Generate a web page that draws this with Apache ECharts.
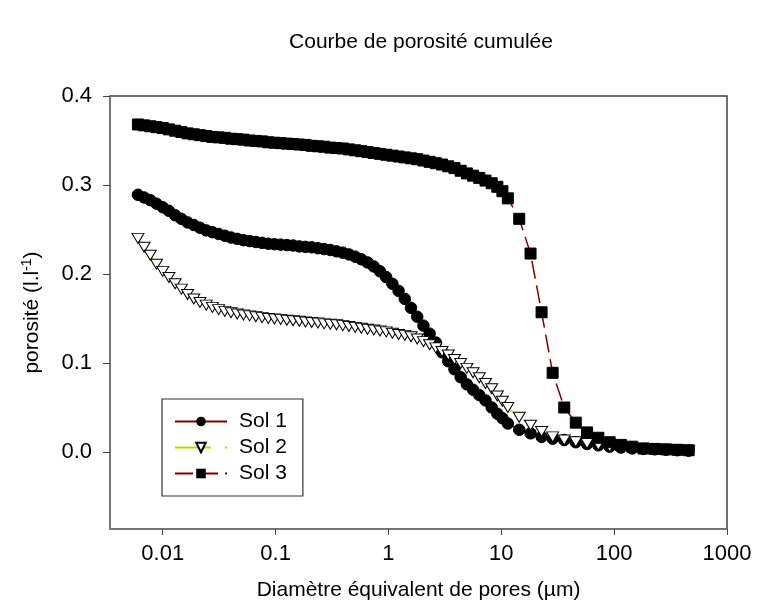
<!DOCTYPE html>
<html>
<head>
<meta charset="utf-8">
<script src="https://cdn.jsdelivr.net/npm/echarts@6/dist/echarts.min.js"></script>
<style>html,body{margin:0;padding:0;background:#fff;}#c{width:757px;height:610px;}</style>
</head>
<body>
<div id="c"></div>
<script>
const titleText = 'Courbe de porosité cumulée';
const xName = 'Diamètre équivalent de pores (µm)';
const xTickValues = [0.01, 0.1, 1, 10, 100, 1000];
const xTickLabels = ['0.01', '0.1', '1', '10', '100', '1000'];
const yTickValues = [0, 0.1, 0.2, 0.3, 0.4];
const yTickLabels = ['0.0', '0.1', '0.2', '0.3', '0.4'];
const seriesNames = ['Sol 1', 'Sol 2', 'Sol 3'];

const diam = [
  0.00603,0.00684,0.00776,0.00881,0.01,0.01135,0.01288,0.01462,0.0166,0.01884,
  0.02138,0.02427,0.02754,0.03126,0.03548,0.04027,0.04571,0.05188,0.05888,0.06683,
  0.07586,0.0861,0.09772,0.1109,0.1259,0.1429,0.1622,0.1841,0.2089,0.2371,
  0.2692,0.3055,0.3467,0.3936,0.4467,0.507,0.5754,0.6531,0.7413,0.8414,
  0.955,1.084,1.23,1.396,1.585,1.799,2.042,2.317,2.63,2.985,
  3.388,3.846,4.365,4.955,5.623,6.383,7.244,8.222,9.226,10.23,
  11.43,14.42,18.16,22.75,28.51,36.14,45.71,57.54,72.44,91.2,
  114.8,144.5,182,229.1,288.4,363.1,457.1
];
const sol1 = [
  0.289,0.286,0.283,0.279,0.275,0.271,0.266,0.262,0.258,0.255,
  0.252,0.249,0.247,0.245,0.243,0.241,0.2395,0.238,0.237,0.236,
  0.235,0.234,0.2335,0.233,0.2325,0.232,0.231,0.2305,0.230,0.229,
  0.228,0.227,0.2255,0.224,0.222,0.2195,0.2165,0.213,0.2085,0.203,
  0.1965,0.189,0.181,0.172,0.162,0.152,0.142,0.133,0.123,0.112,
  0.102,0.093,0.084,0.076,0.070,0.064,0.058,0.050,0.043,0.038,
  0.032,0.025,0.021,0.017,0.015,0.0135,0.011,0.009,0.0075,0.006,
  0.005,0.004,0.0035,0.003,0.0025,0.002,0.0015
];
const sol2 = [
  0.240,0.230,0.221,0.211,0.203,0.196,0.189,0.183,0.177,0.172,
  0.168,0.165,0.1625,0.160,0.158,0.1565,0.155,0.154,0.153,0.152,
  0.151,0.150,0.1495,0.149,0.148,0.1475,0.147,0.146,0.1455,0.145,
  0.144,0.1435,0.143,0.142,0.141,0.140,0.139,0.138,0.137,0.136,
  0.135,0.1335,0.132,0.131,0.1295,0.127,0.124,0.1205,0.117,0.113,
  0.109,0.104,0.0995,0.094,0.089,0.0835,0.077,0.071,0.063,0.057,
  0.050,0.039,0.030,0.023,0.017,0.0135,0.0115,0.0095,0.008,0.006,
  0.005,0.004,0.0035,0.003,0.0025,0.002,0.0015
];
const sol3 = [
  0.368,0.367,0.366,0.365,0.364,0.3625,0.361,0.3595,0.358,0.357,
  0.356,0.355,0.354,0.3535,0.353,0.352,0.3515,0.351,0.350,0.3495,
  0.349,0.348,0.3475,0.347,0.3465,0.346,0.3455,0.345,0.344,0.3435,
  0.343,0.342,0.3415,0.341,0.340,0.339,0.338,0.337,0.336,0.335,
  0.334,0.333,0.332,0.331,0.330,0.329,0.3275,0.326,0.3245,0.323,
  0.321,0.319,0.316,0.313,0.3105,0.308,0.305,0.302,0.298,0.293,
  0.285,0.262,0.223,0.157,0.089,0.050,0.033,0.022,0.016,0.011,
  0.008,0.006,0.004,0.0035,0.003,0.0025,0.002
];

const pairs = arr => diam.map((d, i) => [d, arr[i]]);
const FONT = 'Liberation Sans, Arial, sans-serif';
const chart = echarts.init(document.getElementById('c'), null, {renderer: 'canvas'});
chart.setOption({
  animation: false,
  backgroundColor: '#fff',
  textStyle: {fontFamily: FONT, color: '#000'},
  title: {
    text: titleText, left: 416, top: 27, textAlign: 'center',
    textStyle: {fontFamily: FONT, fontSize: 21, fontWeight: 'normal', color: '#000'}
  },
  grid: {left: 110, right: 30, top: 96, bottom: 81, show: true, borderColor: '#404040', borderWidth: 1.5, containLabel: false},
  legend: {
    orient: 'vertical', left: 162, top: 399,
    padding: [12, 16, 12, 12], itemGap: 5, itemWidth: 52, itemHeight: 12,
    borderColor: '#333', borderWidth: 1.2, backgroundColor: '#fff',
    textStyle: {fontFamily: FONT, fontSize: 21, color: '#000', padding: [0, 0, 0, 7]},
    data: seriesNames
  },
  xAxis: {
    type: 'log', logBase: 10, min: 0.00341, max: 1000,
    name: xName, nameLocation: 'middle', nameGap: 51,
    nameTextStyle: {fontFamily: FONT, fontSize: 21, color: '#000'},
    axisLine: {show: true, onZero: false, lineStyle: {color: '#777', width: 1.5}},
    axisTick: {show: true, inside: false, length: 6, lineStyle: {color: '#444'}, customValues: xTickValues},
    axisLabel: {
      fontFamily: FONT, fontSize: 22, color: '#000', margin: 14, customValues: xTickValues,
      formatter: v => { let best = 0, bd = Infinity; xTickValues.forEach((t, i) => { const dd = Math.abs(Math.log10(v) - Math.log10(t)); if (dd < bd) { bd = dd; best = i; } }); return xTickLabels[best]; }
    },
    splitLine: {show: false}, minorTick: {show: false}
  },
  yAxis: {
    type: 'value', min: -0.0865, max: 0.4,
    name: '{a|porosité (l.l}{b|-1}{a|)}', nameLocation: 'middle', nameGap: 66, nameRotate: 90,
    nameTextStyle: {
      fontFamily: FONT, fontSize: 21, color: '#000',
      rich: {
        a: {fontFamily: FONT, fontSize: 21, color: '#000'},
        b: {fontFamily: FONT, fontSize: 14, color: '#000', padding: [0, 0, 10, 0]}
      }
    },
    axisLine: {show: true, onZero: false, lineStyle: {color: '#777', width: 1.5}},
    axisTick: {show: true, inside: false, length: 7, lineStyle: {color: '#444'}, customValues: yTickValues},
    axisLabel: {
      fontFamily: FONT, fontSize: 22, color: '#000', margin: 18, customValues: yTickValues,
      formatter: v => { const i = yTickValues.findIndex(t => Math.abs(t - v) < 1e-6); return i >= 0 ? yTickLabels[i] : ''; }
    },
    splitLine: {show: false}
  },
  series: [
    {
      name: seriesNames[0], type: 'line', data: pairs(sol1),
      symbol: 'circle', symbolSize: 11.5,
      itemStyle: {color: '#000', borderColor: '#000'},
      lineStyle: {color: '#800000', width: 1.5, type: 'solid'}
    },
    {
      name: seriesNames[1], type: 'line', data: pairs(sol2),
      symbol: 'triangle', symbolSize: [12, 10], symbolRotate: 180,
      itemStyle: {color: '#fff', borderColor: '#000', borderWidth: 1},
      lineStyle: {color: '#c8d200', width: 1.5, type: [36, 14, 2, 14]}
    },
    {
      name: seriesNames[2], type: 'line', data: pairs(sol3),
      symbol: 'rect', symbolSize: 11,
      itemStyle: {color: '#000', borderColor: '#000'},
      lineStyle: {color: '#800000', width: 1.5, type: [18, 7]}
    }
  ]
});
</script>
</body>
</html>
